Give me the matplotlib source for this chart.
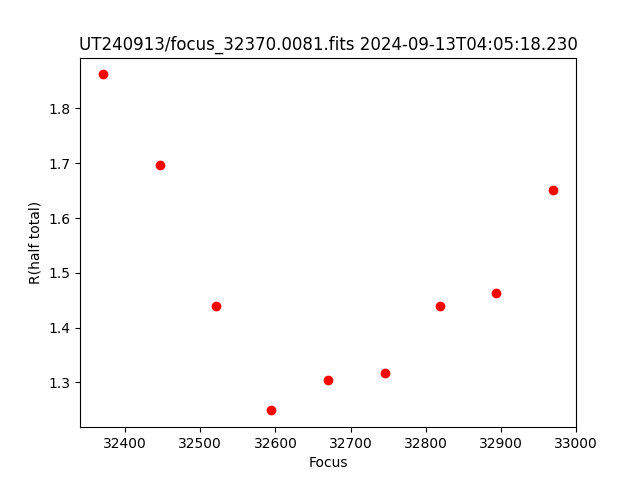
import numpy as np
import matplotlib
matplotlib.use('Agg')
import matplotlib.pyplot as plt

focus = [32370, 32446, 32521, 32594, 32670, 32746, 32819, 32894, 32970]
r_half = [1.862, 1.696, 1.439, 1.249, 1.304, 1.317, 1.439, 1.464, 1.652]

fig, ax = plt.subplots(figsize=(6.4, 4.8), dpi=100)
ax.plot(focus, r_half, 'o', color='red')
ax.set_xlabel('Focus')
ax.set_ylabel('R(half total)')
ax.set_title('UT240913/focus_32370.0081.fits 2024-09-13T04:05:18.230')

fig.savefig('out.png')
